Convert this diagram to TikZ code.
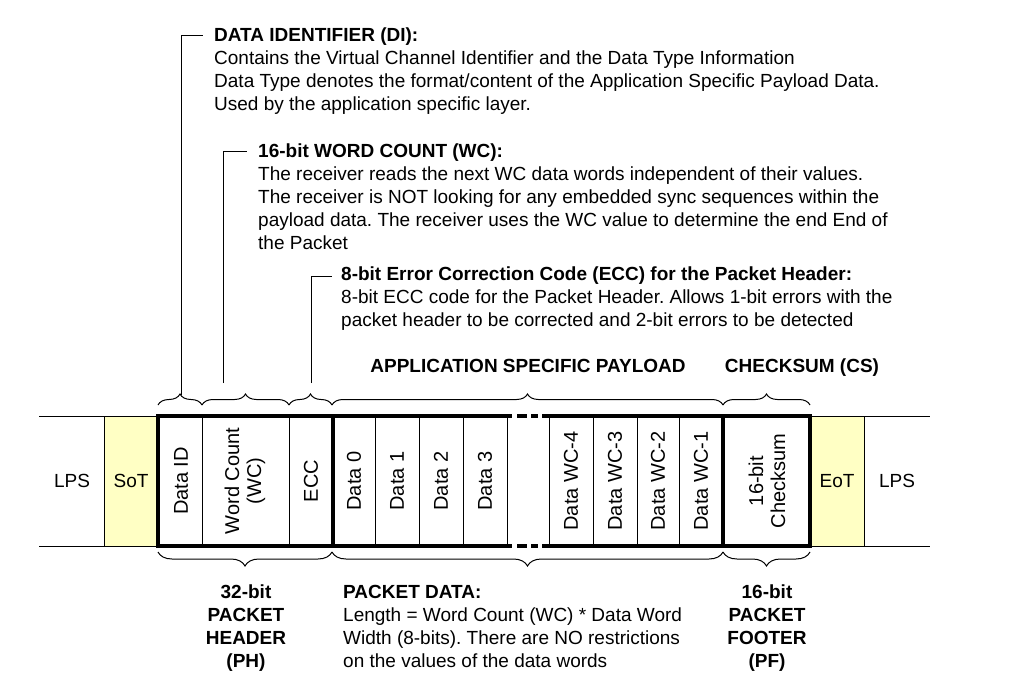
\documentclass[tikz,border=0pt]{standalone}
\usepackage{fontspec}
\setmainfont{Liberation Sans}
\usetikzlibrary{decorations.pathreplacing}
\definecolor{lanefill}{RGB}{255,255,196}
\frenchspacing
\begin{document}
\begin{tikzpicture}[x=1pt,y=-1pt,
  thinline/.style={line width=1pt},
  thickline/.style={line width=4pt},
  upbrace/.style={line width=1pt, decorate, decoration={brace, amplitude=11pt}},
  downbrace/.style={line width=1pt, decorate, decoration={brace, amplitude=14pt}},
  txt/.style={font=\fontsize{19}{23}\selectfont, inner sep=0pt},
  block/.style={txt, align=left, anchor=north west},
  cblock/.style={txt, align=center, anchor=north, font=\fontsize{19}{23}\selectfont\bfseries},
  title/.style={txt, anchor=base, font=\fontsize{19}{23}\selectfont\bfseries},
  cell/.style={txt, rotate=90, align=center, font=\fontsize{20}{22}\selectfont},
  lane/.style={txt, font=\fontsize{19}{22}\selectfont}
]
\useasboundingbox (0,0) rectangle (1020,680);

% yellow start / end of transmission lanes
\fill[lanefill] (104,416) rectangle (158,546);
\fill[lanefill] (810,416) rectangle (864,546);

% low-power state lines
\draw[thinline] (39,416) -- (158,416) (39,546) -- (158,546);
\draw[thinline] (810,416) -- (930,416) (810,546) -- (930,546);

% thin field dividers
\foreach \x in {104,202,289,375,419,463,507,549,593,637,679,864}
  \draw[thinline] (\x,416) -- (\x,546);

% thick packet frame with the elided middle
\draw[thickline] (158,416) -- (512,416) (517,416) -- (527,416) (531,416) -- (538,416) (542,416) -- (810,416);
\draw[thickline] (158,546) -- (512,546) (517,546) -- (527,546) (531,546) -- (538,546) (542,546) -- (810,546);
\foreach \x in {158,333,723,810}
  \draw[thickline] (\x,414) -- (\x,548);

% lane labels
\node[lane] (lps1) at (72,481) {LPS};
\node[lane] (sot) at (131,481) {SoT};
\node[lane] (eot) at (837,481) {EoT};
\node[lane] (lps2) at (897,481) {LPS};

% field labels
\node[cell] (fdi) at (181,481) {Data ID};
\node[cell] (fwc) at (245,481) {Word Count\\(WC)};
\node[cell] (fecc) at (311,481) {ECC};
\node[cell] (fd0) at (354,481) {Data 0};
\node[cell] (fd1) at (397,481) {Data 1};
\node[cell] (fd2) at (441,481) {Data 2};
\node[cell] (fd3) at (485,481) {Data 3};
\node[cell] (fw4) at (571,481) {Data WC-4};
\node[cell] (fw3) at (615,481) {Data WC-3};
\node[cell] (fw2) at (658,481) {Data WC-2};
\node[cell] (fw1) at (701,481) {Data WC-1};
\node[cell] (fcs) at (767,481) {16-bit\\Checksum};

% braces above the fields
\draw[upbrace] (158,405) -- (202,405);
\draw[upbrace] (202,405) -- (289,405);
\draw[upbrace] (289,405) -- (332,405);
\draw[upbrace] (332,405) -- (723,405);
\draw[upbrace] (723,405) -- (810,405);

% braces below the fields
\draw[downbrace] (332,552) -- (158,552);
\draw[downbrace] (723,552) -- (332,552);
\draw[downbrace] (810,552) -- (723,552);

% description blocks
\node[block] (didesc) at (214,28) {\textbf{DATA IDENTIFIER (DI):}\\
  Contains the Virtual Channel Identifier and the Data Type Information\\
  Data Type denotes the format/content of the Application Specific Payload Data.\\
  Used by the application specific layer.};
\node[block] (wcdesc) at (258,144) {\textbf{16-bit WORD COUNT (WC):}\\
  The receiver reads the next WC data words independent of their values.\\
  The receiver is NOT looking for any embedded sync sequences within the\\
  payload data. The receiver uses the WC value to determine the end End of\\
  the Packet};
\node[block] (eccdesc) at (341,267) {\textbf{8-bit Error Correction Code (ECC) for the Packet Header:}\\
  8-bit ECC code for the Packet Header. Allows 1-bit errors with the\\
  packet header to be corrected and 2-bit errors to be detected};

% leader lines from the descriptions to their fields
\coordinate (ditip) at (181,395);
\coordinate (dihook) at (203,35);
\coordinate (wcfoot) at (223,383);
\coordinate (wchook) at (247,151);
\coordinate (eccfoot) at (311,383);
\coordinate (ecchook) at (332,276);
\draw[thinline] (ditip) |- (dihook);
\draw[thinline] (wcfoot) |- (wchook);
\draw[thinline] (eccfoot) |- (ecchook);

% section titles
\node[title] (aspl) at (528,372) {APPLICATION SPECIFIC PAYLOAD};
\node[title] (cstitle) at (802,372) {CHECKSUM (CS)};

% bottom captions
\node[cblock] (phcap) at (246,585) {32-bit\\PACKET\\HEADER\\(PH)};
\node[block] (pdcap) at (343,585) {\textbf{PACKET DATA:}\\
  Length = Word Count (WC) * Data Word\\
  Width (8-bits). There are NO restrictions\\
  on the values of the data words};
\node[cblock] (pfcap) at (767,585) {16-bit\\PACKET\\FOOTER\\(PF)};
\end{tikzpicture}
\end{document}
